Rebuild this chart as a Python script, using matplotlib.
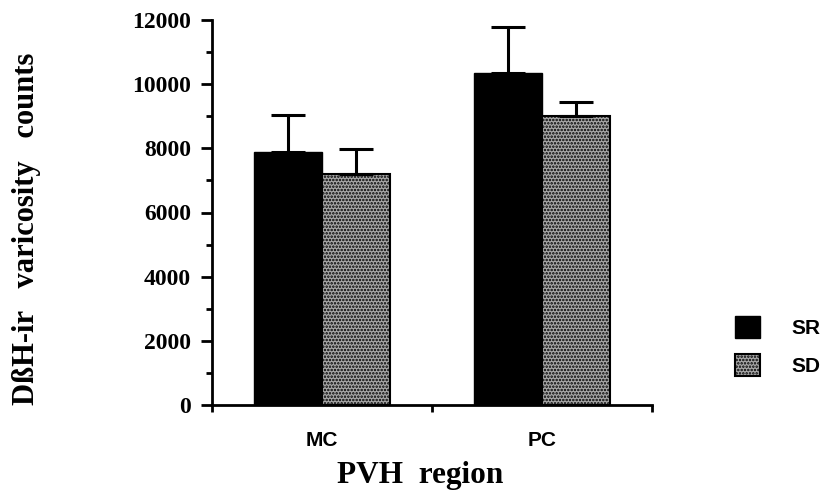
import matplotlib
matplotlib.use("Agg")
import matplotlib.pyplot as plt
import numpy as np

categories = ["MC", "PC"]
series = ["SR", "SD"]
sr_values = [7900, 10350]
sr_errors = [1140, 1430]
sd_values = [7200, 9000]
sd_errors = [780, 440]
y_ticks = [0, 2000, 4000, 6000, 8000, 10000, 12000]

plt.rcParams['hatch.linewidth'] = 1.2

fig = plt.figure(figsize=(8.22, 4.96), dpi=100)
ax = fig.add_axes([212/822, 1-405/496, 440/822, 385/496])

x = np.arange(len(categories))
w = 0.31
err_kw = dict(ecolor='black', elinewidth=2.2, capsize=12, capthick=2.2)
b1 = ax.bar(x - w/2, sr_values, w, color='black', edgecolor='black', linewidth=1,
            yerr=[[0]*2, sr_errors], error_kw=err_kw, label=series[0], zorder=2)
b2 = ax.bar(x + w/2, sd_values, w, color='#a8a8a8', edgecolor='black', linewidth=1.5,
            hatch='.....', yerr=[[0]*2, sd_errors], error_kw=err_kw, label=series[1], zorder=2)

ax.set_xlim(-0.5, 1.5)
ax.set_ylim(0, 12000)
ax.spines['top'].set_visible(False)
ax.spines['right'].set_visible(False)
ax.spines['left'].set_linewidth(2)
ax.spines['bottom'].set_linewidth(2)

ax.set_yticks(y_ticks)
ax.set_yticks(np.arange(1000, 12000, 2000), minor=True)
ax.tick_params(axis='y', which='major', length=8, width=2, pad=7, direction='out')
ax.tick_params(axis='y', which='minor', length=4, width=2, direction='out')
for lab in ax.get_yticklabels():
    lab.set_fontfamily('Liberation Serif')
    lab.set_fontweight('bold')
    lab.set_fontsize(17)

ax.set_xticks([-0.5, 0.5, 1.5])
ax.set_xticklabels(['', '', ''])
ax.tick_params(axis='x', which='major', length=5, width=2, direction='out')
ax.set_xticks(x, minor=True)
ax.set_xticklabels(categories, minor=True, fontfamily='Liberation Sans', fontsize=15,
                   fontweight='bold')
ax.tick_params(axis='x', which='minor', length=0, pad=19)

fig.text(27/822, 1-229/496, "DßH-ir   varicosity   counts", rotation=90, ha='center', va='center',
         fontfamily='Liberation Serif', fontweight='bold', fontsize=22)
fig.text(420/822, 1-483/496, "PVH  region", ha='center', va='baseline',
         fontfamily='Liberation Serif', fontweight='bold', fontsize=22.5)

fig.legend(handles=[b1, b2], labels=series, loc='upper left',
           bbox_to_anchor=(735/822, 1-316/496), frameon=False, borderpad=0,
           borderaxespad=0, handlelength=1.2, handleheight=1.25, handletextpad=1.5,
           labelspacing=0.75, prop={'family': 'Liberation Sans', 'size': 15, 'weight': 'bold'})

fig.savefig("out.png", dpi=100)
